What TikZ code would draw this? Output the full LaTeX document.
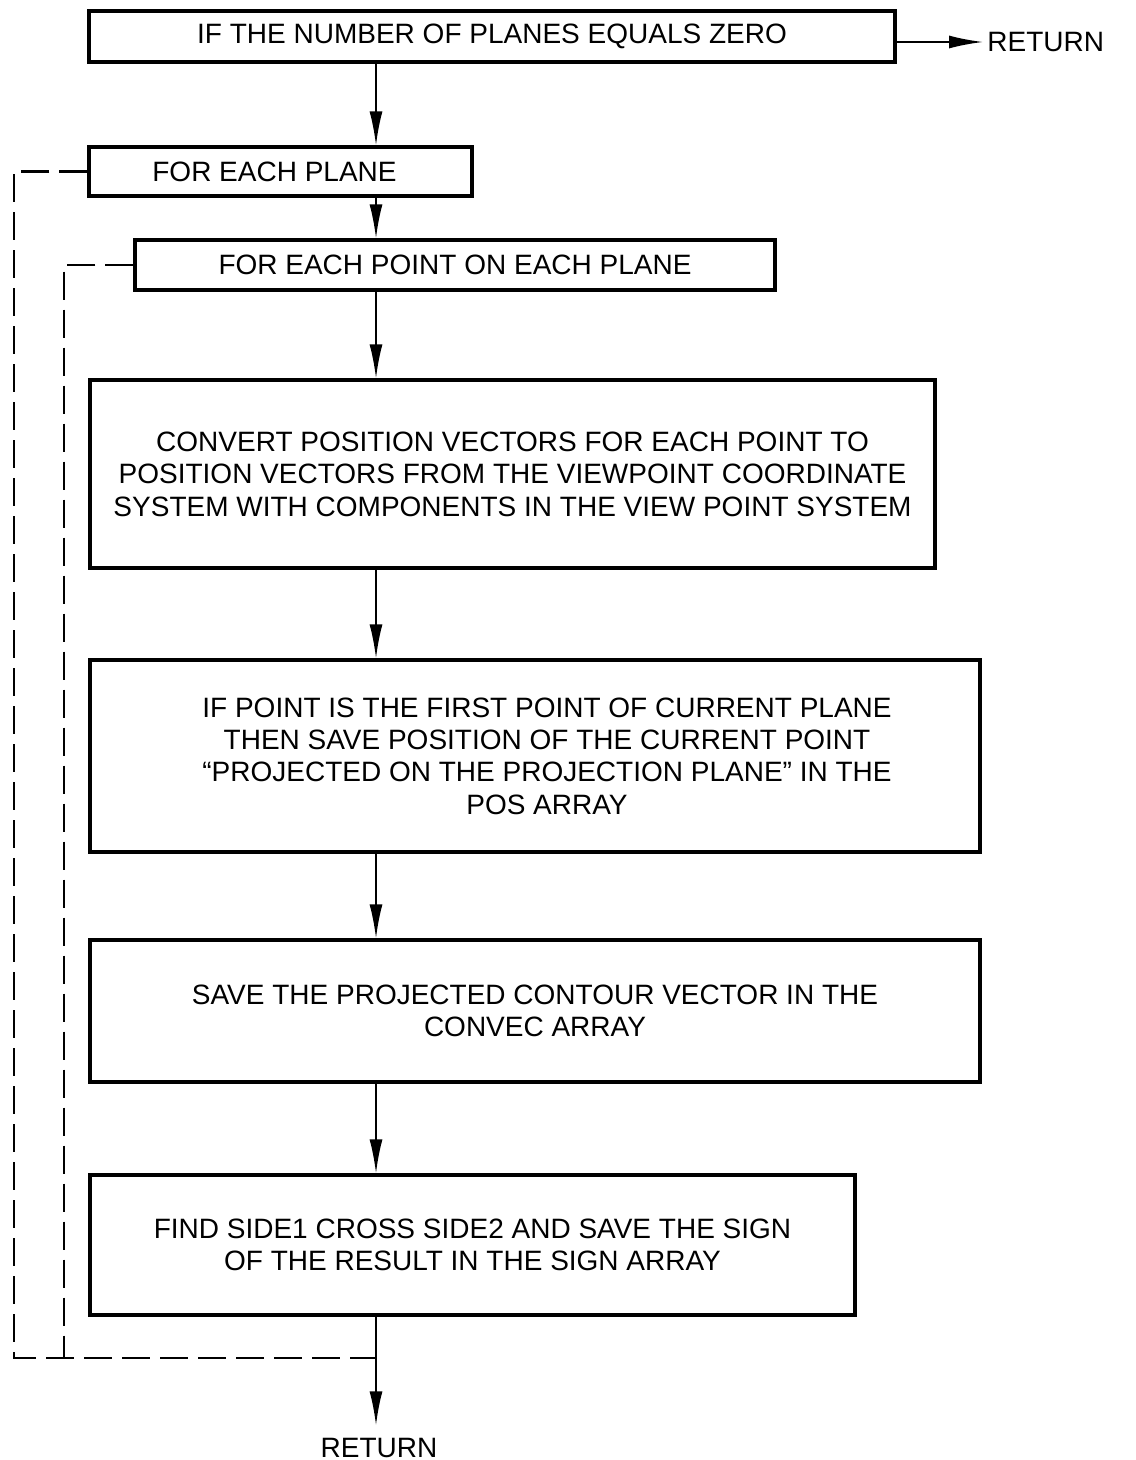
\documentclass[tikz,border=0pt]{standalone}
\usepackage{fontspec}
\setmainfont{Liberation Sans}
\usetikzlibrary{arrows.meta, positioning}

\begin{document}
\begin{tikzpicture}[x=0.5pt, y=-0.5pt, font=\fontsize{14}{16.2}\selectfont,
  box/.style={draw, line width=1.6pt, inner sep=0pt, align=center},
  flow/.style={-{Latex[length=17pt, width=6.5pt]}, line width=1pt},
  loopline/.style={line width=1.1pt, dash pattern=on 14pt off 5pt}]
  \useasboundingbox (0,0) rectangle (1135,1460);
  \coordinate (ax) at (376,0);
  % boxes, placed at their centres
  \node[box, minimum width=403pt, minimum height=25.5pt] (zero) at (492,36.5) {IF THE NUMBER OF PLANES EQUALS ZERO};
  \node[box, minimum width=191.5pt, minimum height=24.5pt] (plane) at (280.5,171.5) {FOR EACH PLANE\hspace*{6pt}};
  \node[box, minimum width=320pt, minimum height=25pt] (point) at (455,265) {FOR EACH POINT ON EACH PLANE};
  \node[box, minimum width=422.5pt, minimum height=94pt] (conv) at (512.5,474)
    {CONVERT POSITION VECTORS FOR EACH POINT TO\\POSITION VECTORS FROM THE VIEWPOINT COORDINATE\\SYSTEM WITH COMPONENTS IN THE VIEW POINT SYSTEM};
  \node[box, minimum width=445pt, minimum height=96pt] (first) at (535,756)
    {\hspace*{12pt}IF POINT IS THE FIRST POINT OF CURRENT PLANE\\\hspace*{12pt}THEN SAVE POSITION OF THE CURRENT POINT\\\hspace*{12pt}“PROJECTED ON THE PROJECTION PLANE” IN THE\\\hspace*{12pt}POS ARRAY};
  \node[box, minimum width=445pt, minimum height=71pt] (vec) at (535,1011)
    {SAVE THE PROJECTED CONTOUR VECTOR IN THE\\CONVEC ARRAY};
  \node[box, minimum width=382.5pt, minimum height=70pt] (sign) at (472.5,1245)
    {FIND SIDE1 CROSS SIDE2 AND SAVE THE SIGN\\OF THE RESULT IN THE SIGN ARRAY};
  \node[inner sep=2pt, anchor=west] (ret1) at (983,42) {RETURN};
  \node[inner sep=0pt, anchor=base] (ret2) at (379,1457) {RETURN};
  \coordinate (outer) at (14,1358);
  \coordinate (inner) at (64,1358);
  \coordinate (jn) at (376,1358);

  \draw[flow] (zero.east |- ret1) -- (ret1.west);
  \draw[flow] (zero.south -| ax) -- (plane.north -| ax);
  \draw[flow] (plane.south -| ax) -- (point.north -| ax);
  \draw[flow] (point.south -| ax) -- (conv.north -| ax);
  \draw[flow] (conv.south -| ax) -- (first.north -| ax);
  \draw[flow] (first.south -| ax) -- (vec.north -| ax);
  \draw[flow] (vec.south -| ax) -- (sign.north -| ax);
  \draw[flow, shorten >=6pt] (sign.south -| ax) -- (ret2.north -| ax);
  % loop returns
  \draw[loopline] (plane.west) -| (outer) -- (jn);
  \draw[loopline] (point.west) -| (inner);
\end{tikzpicture}
\end{document}
